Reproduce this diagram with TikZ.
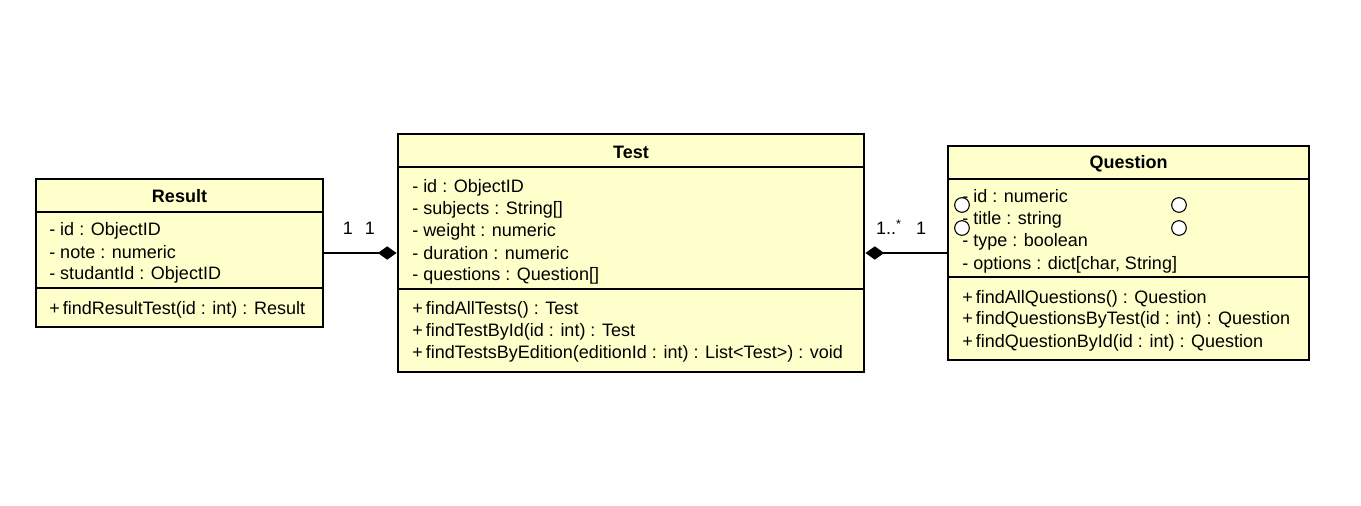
\documentclass[tikz,border=0pt]{standalone}
\usepackage{fontspec}
\setmainfont{Liberation Sans}
\usetikzlibrary{arrows.meta}
\definecolor{umlfill}{RGB}{255,255,204}

\begin{document}
\begin{tikzpicture}[x=0.75pt,y=-0.75pt,
    classbox/.style={draw,line width=2.2pt,fill=umlfill,inner sep=0pt},
    sep/.style={line width=0.8pt},
    txt/.style={anchor=base west,inner sep=0pt,font=\fontsize{13.5}{16}\selectfont},
    ttl/.style={anchor=base,inner sep=0pt,font=\fontsize{13.5}{16}\selectfont\bfseries},
    mult/.style={anchor=base,inner sep=0pt,font=\fontsize{13.5}{16}\selectfont},
    comp/.style={line width=0.8pt,-{Diamond[length=14pt,width=10pt]}},
    port/.style={circle,draw,fill=white,line width=0.8pt,minimum size=11pt,inner sep=0pt}]
    \useasboundingbox (0,0) rectangle (1361,506);
    % classes
    \node[classbox,minimum width=215.25pt,minimum height=111pt] (result) at (179.5,253) {};
    \node[classbox,minimum width=349.5pt,minimum height=178.5pt] (test) at (631,253) {};
    \node[classbox,minimum width=270.75pt,minimum height=160.5pt] (question) at (1128.5,253) {};
    \draw[sep] (36,212) -- (323,212);   \draw[sep] (36,288) -- (323,288);
    \draw[sep] (398,167) -- (864,167);  \draw[sep] (398,289) -- (864,289);
    \draw[sep] (948,179) -- (1309,179); \draw[sep] (948,277) -- (1309,277);
    % Result
    \node[ttl] (result-t) at (179.5,203) {Result};
    \foreach \t [count=\i] in {- id : ObjectID, - note : numeric, - studantId : ObjectID}
        \node[txt] (result-a\i) at (49,214+22*\i) {\t};
    \node[txt] (result-m1) at (49,314) {+\,findResultTest(id : int) : Result};
    % Test
    \node[ttl] (test-t) at (631,159) {Test};
    \foreach \t [count=\i] in {- id : ObjectID, - subjects : String[], - weight : numeric,
        - duration : numeric, - questions : Question[]}
        \node[txt] (test-a\i) at (412,171+22*\i) {\t};
    \foreach \t [count=\i] in {findAllTests() : Test, findTestById(id : int) : Test,
        findTestsByEdition(editionId : int) : List<Test>) : void}
        \node[txt] (test-m\i) at (412,292+22*\i) {+\,\t};
    % Question
    \node[ttl] (question-t) at (1128.5,169) {Question};
    \foreach \t [count=\i] in {- id : numeric, - title : string, - type : boolean,
        {- options : dict[char, String]}}
        \node[txt] (question-a\i) at (962,181+22*\i) {\t};
    \foreach \t [count=\i] in {findAllQuestions() : Question, findQuestionsByTest(id : int) : Question,
        findQuestionById(id : int) : Question}
        \node[txt] (question-m\i) at (962,281+22*\i) {+\,\t};
    \node[port] (p1) at (962,205) {};  \node[port] (p2) at (962,228) {};
    \node[port] (p3) at (1179,205) {}; \node[port] (p4) at (1179,228) {};
    % compositions
    \draw[comp] (result) -- (test);
    \draw[comp] (question) -- (test);
    \node[mult] (m1) at (348,234) {1};
    \node[mult] (m2) at (370,234) {1};
    \node[mult] (m3) at (889,235) {1..\textsuperscript{*}};
    \node[mult] (m4) at (921,235) {1};
\end{tikzpicture}
\end{document}
